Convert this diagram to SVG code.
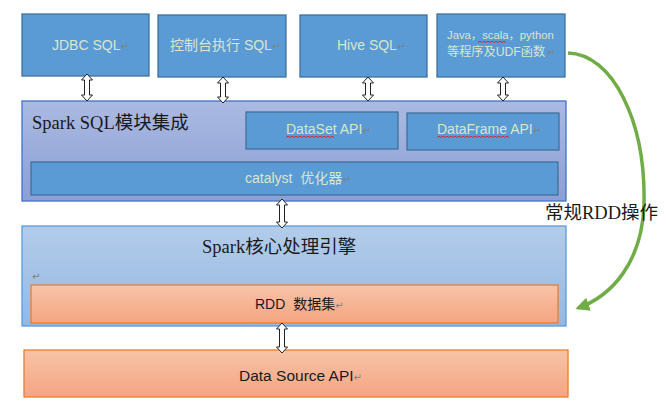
<svg xmlns="http://www.w3.org/2000/svg" width="667" height="418" viewBox="0 0 667 418">
<defs>
<linearGradient id="gSql" x1="0" y1="0" x2="0" y2="1"><stop offset="0" stop-color="#AABAE2"/><stop offset="1" stop-color="#8C9FD6"/></linearGradient>
<linearGradient id="gCore" x1="0" y1="0" x2="0" y2="1"><stop offset="0" stop-color="#B3CCEA"/><stop offset="1" stop-color="#94B8E3"/></linearGradient>
<linearGradient id="gOrange" x1="0" y1="0" x2="0" y2="1"><stop offset="0" stop-color="#F8C3A8"/><stop offset="1" stop-color="#F4A581"/></linearGradient>
<marker id="greenHead" viewBox="0 0 10 10" refX="8" refY="5" markerWidth="4" markerHeight="4" orient="auto" markerUnits="strokeWidth"><path d="M0,0 L10,5 L0,10 Z" fill="#70AD47"/></marker>
</defs>
<style>
.blue{fill:#5B9BD5;stroke:#41719C;stroke-width:1.3}
.sql{fill:url(#gSql);stroke:#4472C4;stroke-width:1.3}
.core{fill:url(#gCore);stroke:#5B9BD5;stroke-width:1.3}
.org{fill:url(#gOrange);stroke:#ED7D31;stroke-width:1.3}
.lt{font-family:"Liberation Sans","Noto Sans CJK SC",sans-serif;fill:#D9E6CA;font-size:14px}
.dk{font-family:"Liberation Sans","Noto Sans CJK SC",sans-serif;fill:#1A1A1A;font-size:14px}
.ttl{font-family:"Liberation Serif","Noto Sans CJK SC",serif;fill:#1A1A1A;font-size:18.5px}
.ret{fill:#808080;font-family:"DejaVu Sans",sans-serif;font-size:10px}
.arr{fill:#FFFFFF;stroke:#222222;stroke-width:1}
.wav{fill:none;stroke:#E02020;stroke-width:0.9}
</style>

<g id="jdbc"><rect class="blue" x="22" y="14" width="127" height="62"/><text class="lt" x="52" y="50">JDBC SQL<tspan class="ret">↵</tspan></text></g>
<g id="console"><rect class="blue" x="158" y="15" width="128" height="62"/><text class="lt" x="170" y="50">控制台执行 SQL<tspan class="ret">↵</tspan></text></g>
<g id="hive"><rect class="blue" x="300" y="15" width="127" height="62"/><text class="lt" x="337" y="50">Hive SQL<tspan class="ret">↵</tspan></text></g>
<g id="udf"><rect class="blue" x="437" y="14" width="128" height="63"/>
<text class="lt" x="447" y="39" style="font-size:11.3px">Java，scala，python</text>
<path class="wav" d="M478,42.5 l2,-1.3 l2,1.3 l2,-1.3 l2,1.3 l2,-1.3 l2,1.3 l2,-1.3 l2,1.3 l2,-1.3 l2,1.3 l2,-1.3 l2,1.3 l2,-1.3 l2,1.3 "/>
<text class="lt" x="447" y="56" style="font-size:12.2px">等程序及UDF函数</text>
<text class="ret" x="547" y="56">↵</text></g>

<g id="sparksql"><rect class="sql" x="22" y="101" width="544" height="100"/><text class="ttl" x="32" y="129">Spark SQL模块集成</text></g>
<g id="dataset"><rect class="blue" x="246" y="112" width="152" height="37"/><text class="lt" x="286" y="134">DataSet API<tspan class="ret">↵</tspan></text>
<path class="wav" d="M286,137.5 l2,-1.3 l2,1.3 l2,-1.3 l2,1.3 l2,-1.3 l2,1.3 l2,-1.3 l2,1.3 l2,-1.3 l2,1.3 l2,-1.3 l2,1.3 l2,-1.3 l2,1.3 l2,-1.3 l2,1.3 l2,-1.3 l2,1.3 l2,-1.3 l2,1.3 l2,-1.3 l2,1.3 l2,-1.3 l2,1.3"/></g>
<g id="dataframe"><rect class="blue" x="407" y="113" width="152" height="37"/><text class="lt" x="437" y="134">DataFrame API<tspan class="ret">↵</tspan></text>
<path class="wav" d="M437,137.5 l2,-1.3 l2,1.3 l2,-1.3 l2,1.3 l2,-1.3 l2,1.3 l2,-1.3 l2,1.3 l2,-1.3 l2,1.3 l2,-1.3 l2,1.3 l2,-1.3 l2,1.3 l2,-1.3 l2,1.3 l2,-1.3 l2,1.3 l2,-1.3 l2,1.3 l2,-1.3 l2,1.3 l2,-1.3 l2,1.3 l2,-1.3 l2,1.3 l2,-1.3 l2,1.3 l2,-1.3 l2,1.3 l2,-1.3 l2,1.3 l2,-1.3 l2,1.3 l2,-1.3 l2,1.3"/></g>
<g id="catalyst"><rect class="blue" x="31" y="162" width="527" height="33"/><text class="lt" x="245" y="183">catalyst  <tspan dx="4">优化器</tspan><tspan class="ret">↵</tspan></text></g>

<g id="core"><rect class="core" x="22" y="226" width="544" height="100"/><text class="ttl" x="202" y="253">Spark核心处理引擎</text><text class="ret" x="32" y="280">↵</text></g>
<g id="rdd"><rect class="org" x="31" y="285" width="527" height="38"/><text class="dk" x="255" y="309">RDD <tspan dx="4">数据集</tspan><tspan class="ret">↵</tspan></text></g>

<g id="datasource"><rect class="org" x="24" y="350" width="544" height="47"/><text class="dk" x="239" y="381" style="font-size:15.5px">Data Source API<tspan class="ret">↵</tspan></text></g>

<g id="connectors">
<path class="arr" d="M87,74 L92.5,80 L89.5,80 L89.5,95 L92.5,95 L87,101 L81.5,95 L84.5,95 L84.5,80 L81.5,80 Z"/>
<path class="arr" d="M223,77 L228.5,83 L225.5,83 L225.5,97 L228.5,97 L223,103 L217.5,97 L220.5,97 L220.5,83 L217.5,83 Z"/>
<path class="arr" d="M368,77 L373.5,83 L370.5,83 L370.5,95 L373.5,95 L368,101 L362.5,95 L365.5,95 L365.5,83 L362.5,83 Z"/>
<path class="arr" d="M503,77 L508.5,83 L505.5,83 L505.5,95 L508.5,95 L503,101 L497.5,95 L500.5,95 L500.5,83 L497.5,83 Z"/>
<path class="arr" d="M282,199 L287.5,205 L284.5,205 L284.5,222 L287.5,222 L282,228 L276.5,222 L279.5,222 L279.5,205 L276.5,205 Z"/>
<path class="arr" d="M282,323 L287.5,329 L284.5,329 L284.5,347 L287.5,347 L282,353 L276.5,347 L279.5,347 L279.5,329 L276.5,329 Z"/>
<path d="M568,53 C612,54 646,120 644,205 C642,262 612,296 578,308" fill="none" stroke="#70AD47" stroke-width="3.5" marker-end="url(#greenHead)"/>
<text class="ttl" x="545" y="219">常规RDD操作</text>
</g>
</svg>
